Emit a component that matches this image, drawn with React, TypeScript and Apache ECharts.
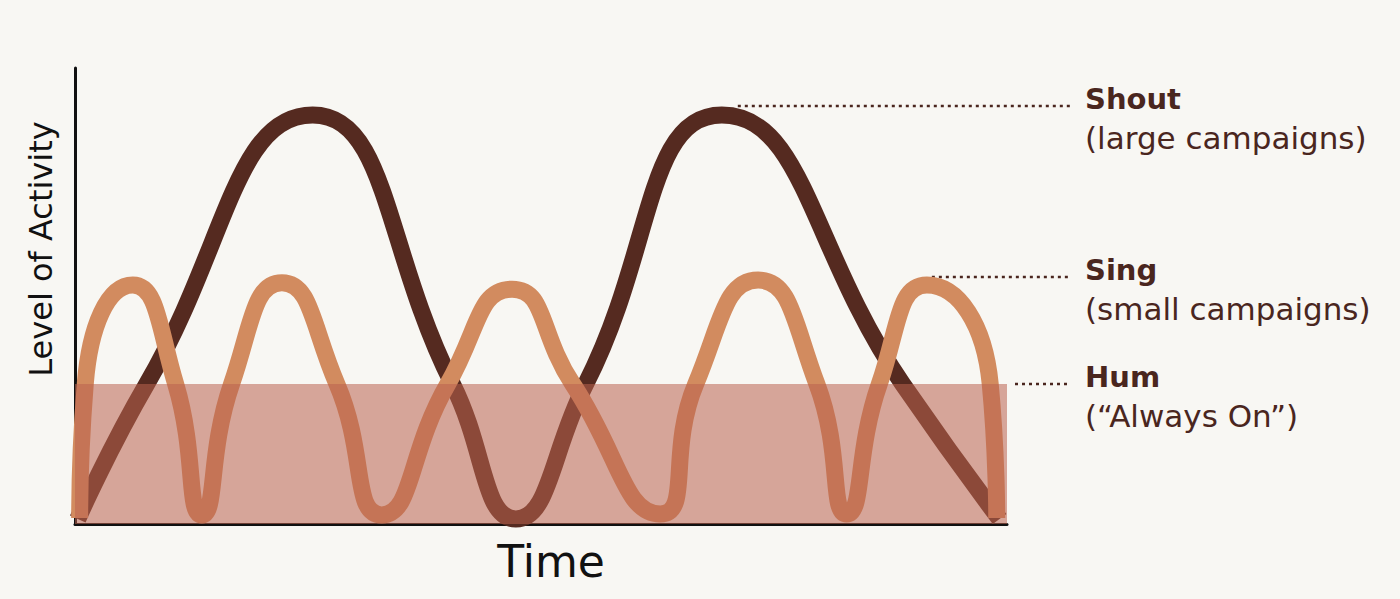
import React, { useEffect, useRef } from "react";
import * as echarts from "echarts";

// Time (0–100) vs level of activity (0–100)
const shoutPoints: [number, number][] = [
  [0.3, 1.1], [7.7, 30.7], [25.5, 89.7], [40.5, 30.7], [47.3, 1.1],
  [54.8, 30.7], [69.4, 89.7], [88.8, 30.7], [99.2, 1.1],
];

const singPoints: [number, number][] = [
  [0.5, 1.3], [1.1, 30.7], [6.2, 52.4], [10.8, 30.7], [13.6, 2.0], [16.8, 30.7],
  [22.2, 52.9], [28.1, 30.7], [32.9, 2.0], [40.0, 30.7], [46.9, 51.5], [53.4, 30.7],
  [62.8, 2.2], [66.6, 30.7], [73.3, 53.5], [79.6, 30.7], [82.8, 2.2], [86.3, 30.7],
  [91.4, 52.4], [98.2, 30.7], [98.9, 1.3],
];

const humLevel = 30.7;
const timeRange: [number, number] = [0, 100];
const activityRange: [number, number] = [0, 100];

const seriesNames = ["Shout", "Sing", "Hum"];
const seriesNotes = ["(large campaigns)", "(small campaigns)", "(\u201CAlways On\u201D)"];

const SHOUT_COLOR = "#552a20";
const SING_COLOR = "#d28b5f";
const HUM_COLOR = "rgba(186,98,78,0.55)";
const TEXT_BROWN = "#4a261e";
const LINE_W = 17;
const FONT = "DejaVu Sans";

function lastPeak(points: [number, number][]): [number, number] {
  let best = points[0];
  for (let i = 1; i < points.length - 1; i++) {
    if (points[i][1] > points[i - 1][1] && points[i][1] >= points[i + 1][1]) best = points[i];
  }
  return best;
}

export default function App() {
  const ref = useRef<HTMLDivElement>(null);
  useEffect(() => {
    if (!ref.current) return;
    const chart = echarts.init(ref.current, undefined, { renderer: "svg" });
    const option: any = {
      animation: false,
      backgroundColor: "#f8f7f3",
      grid: { left: 75, right: 393, top: 68, bottom: 75 },
      xAxis: {
        type: "value",
        min: timeRange[0],
        max: timeRange[1],
        axisLine: { show: true, lineStyle: { color: "#111", width: 3 } },
        axisTick: { show: false },
        axisLabel: { show: false },
        splitLine: { show: false },
        name: "Time",
        nameLocation: "middle",
        nameGap: 15,
        nameTextStyle: { fontSize: 44, fontFamily: FONT, color: "#111", padding: [0, 0, 0, 20] },
      },
      yAxis: {
        type: "value",
        min: activityRange[0],
        max: activityRange[1],
        axisLine: { show: true, onZero: false, lineStyle: { color: "#111", width: 3 } },
        axisTick: { show: false },
        axisLabel: { show: false },
        splitLine: { show: false },
        name: "Level of Activity",
        nameLocation: "middle",
        nameRotate: 90,
        nameGap: 18,
        nameTextStyle: { fontSize: 32, fontFamily: FONT, color: "#111", padding: [0, 0, 0, 94] },
      },
      series: [
        {
          name: seriesNames[0],
          type: "line",
          data: shoutPoints,
          smooth: 0.5,
          showSymbol: false,
          clip: false,
          silent: true,
          lineStyle: { color: SHOUT_COLOR, width: LINE_W },
          z: 2,
        },
        {
          name: seriesNames[1],
          type: "line",
          data: singPoints,
          smooth: 0.55,
          showSymbol: false,
          clip: false,
          silent: true,
          lineStyle: { color: SING_COLOR, width: LINE_W },
          z: 3,
        },
        {
          name: seriesNames[2],
          type: "line",
          data: [[timeRange[0], humLevel], [timeRange[1], humLevel]],
          showSymbol: false,
          silent: true,
          lineStyle: { width: 0 },
          areaStyle: { color: HUM_COLOR, opacity: 1 },
          z: 4,
        },
      ],
    };
    chart.setOption(option);

    const anchors: [number, number][] = [lastPeak(shoutPoints), lastPeak(singPoints), [timeRange[1], humLevel]];
    const offsets = [
      { dx: 16, dy: -LINE_W / 2 },
      { dx: 5, dy: -LINE_W / 2 },
      { dx: 8, dy: 0 },
    ];
    const lineEnd = 1070;
    const labelX = 1085;
    const graphic: any[] = [];
    anchors.forEach((a, i) => {
      const p = chart.convertToPixel({ gridIndex: 0 }, a) as number[];
      const y = Math.round(p[1] + offsets[i].dy);
      graphic.push({
        type: "line",
        shape: { x1: p[0] + offsets[i].dx, y1: y, x2: lineEnd, y2: y },
        style: { stroke: TEXT_BROWN, lineWidth: 2.5, lineDash: [3, 4] },
        silent: true,
      });
      graphic.push({
        type: "text",
        x: labelX,
        y: y - 7,
        style: {
          text: seriesNames[i],
          fontSize: 29,
          fontWeight: "bold",
          fontFamily: FONT,
          fill: TEXT_BROWN,
          verticalAlign: "middle",
          align: "left",
        },
        silent: true,
      });
      graphic.push({
        type: "text",
        x: labelX,
        y: y + 32,
        style: {
          text: seriesNotes[i],
          fontSize: 31,
          fontFamily: FONT,
          fill: TEXT_BROWN,
          verticalAlign: "middle",
          align: "left",
        },
        silent: true,
      });
    });
    chart.setOption({ graphic });

    return () => chart.dispose();
  }, []);
  return (
    <div
      ref={ref}
      style={{ position: "fixed", left: 0, top: 0, width: 1400, height: 599, background: "#f8f7f3" }}
    />
  );
}
